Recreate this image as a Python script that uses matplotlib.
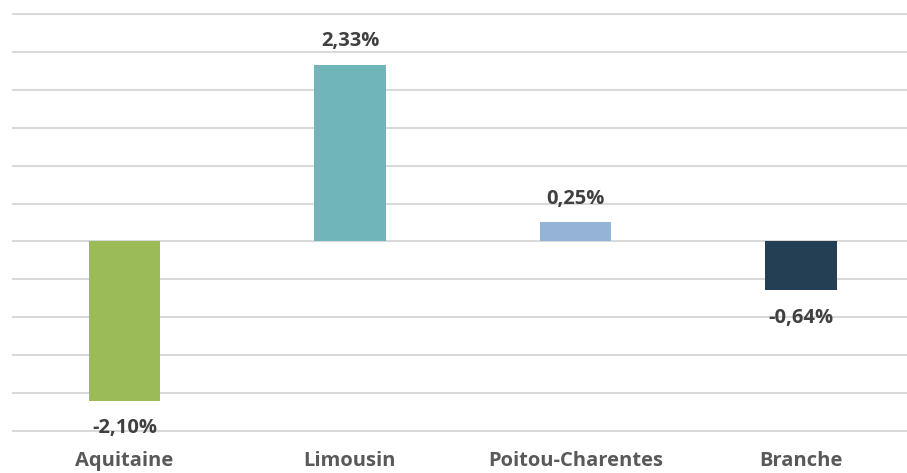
import matplotlib
matplotlib.use('Agg')
from matplotlib import pyplot as plt

regions = ['Aquitaine', 'Limousin', 'Poitou-Charentes', 'Branche']
values = [-2.10, 2.33, 0.25, -0.64]
labels = ['-2,10%', '2,33%', '0,25%', '-0,64%']
colors = ['#9BBB59', '#70B5B9', '#95B3D7', '#243F54']

plt.rcParams['font.family'] = ['Open Sans', 'DejaVu Sans']

fig = plt.figure(figsize=(9.07, 4.73), dpi=100)
# axes slightly taller than the grid so the outer gridlines are not clipped
ax = fig.add_axes([11.75 / 907, 40.5 / 473, 902 / 907, 420 / 473])

x = range(len(regions))
ax.bar(x, values, width=0.315, color=colors, zorder=3)

# value labels above / below the bars
for i, v in enumerate(values):
    off = 17 if v >= 0 else -20
    ax.annotate(labels[i], (i, v), xytext=(0, off), textcoords='offset points',
                ha='center', va='center', fontsize=14.5, fontweight='bold',
                color='#404040', zorder=4)

ax.set_xlim(-0.5, 3.5)
ax.set_ylim(-2.52, 3.02)
ax.set_yticks([i * 0.5 for i in range(-5, 7)])
ax.yaxis.grid(True, color='#D9D9D9', linewidth=1.5, zorder=0)
ax.set_yticklabels([])
ax.tick_params(axis='y', length=0)
ax.tick_params(axis='x', length=0, pad=13)
ax.set_xticks(list(x))
ax.set_xticklabels(regions, fontsize=14.5, fontweight='bold', color='#595959')
for s in ax.spines.values():
    s.set_visible(False)

fig.savefig('out.png', dpi=100)
